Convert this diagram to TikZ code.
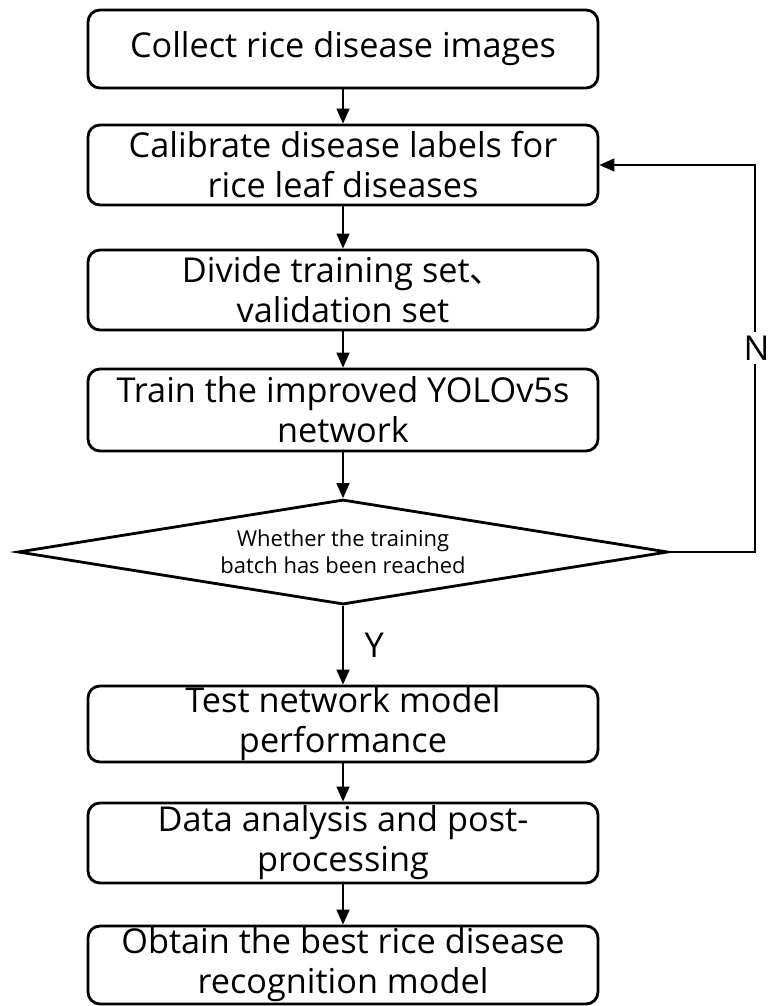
\documentclass[tikz,border=0pt]{standalone}
\usepackage{fontspec}
\setmainfont{Open Sans}
\newfontfamily\cjk{Noto Sans CJK SC}
\usetikzlibrary{shapes.geometric,arrows.meta}

\begin{document}
\begin{tikzpicture}[
  box/.style={draw, line width=1.6pt, rounded corners=0.24cm, minimum width=10.2cm,
    minimum height=1.56cm, inner sep=0pt, align=center,
    font=\fontsize{19.5}{22.8}\selectfont},
  decision/.style={draw, diamond, line width=1.6pt, aspect=6.2, minimum width=13cm,
    minimum height=2.1cm, inner sep=0pt, align=center,
    font=\fontsize{12.5}{15.3}\selectfont},
  flow/.style={line width=0.8pt, -{Triangle[length=0.3cm,width=0.26cm]}},
  tag/.style={font=\fontsize{19.5}{22.8}\selectfont}
]
\useasboundingbox (0,0) rectangle (15.42,-20.12);

\node[box] (collect) at (6.86,-0.98) {Collect rice disease images};
\node[box, minimum height=1.6cm] (calib) at (6.86,-3.30) {Calibrate disease labels for\\rice leaf diseases};
\node[box, minimum height=1.6cm] (divide) at (6.86,-5.80) {Divide training set\cjk{、}\\validation set};
\node[box, minimum height=1.64cm] (train) at (6.86,-8.20) {Train the improved YOLOv5s\\network};

\node[decision] (reach) at (6.86,-11.04) {Whether the training\\batch has been reached};

\node[box, minimum height=1.52cm] (test) at (6.86,-14.48) {Test network model\\performance};
\node[box, minimum height=1.6cm] (post) at (6.86,-16.86) {Data analysis and post-\\processing};
\node[box] (best) at (6.86,-19.30) {Obtain the best rice disease\\recognition model};

\draw[flow] (collect) -- (calib);
\draw[flow] (calib) -- (divide);
\draw[flow] (divide) -- (train);
\draw[flow] (train) -- (reach);
\draw[flow] (reach) -- node[tag, right=0.3cm, pos=0.5] (yes) {Y} (test);
\draw[flow] (test) -- (post);
\draw[flow] (post) -- (best);

% back to labelling
\coordinate (turnlow) at (15.10,-11.04);
\coordinate (turnhigh) at (15.10,-3.30);
\draw[flow] (reach.east) -- (turnlow) -- (turnhigh) -- (calib.east);
\node[tag, fill=white, inner sep=2pt] (no) at (15.13,-6.96) {N};
\end{tikzpicture}
\end{document}
